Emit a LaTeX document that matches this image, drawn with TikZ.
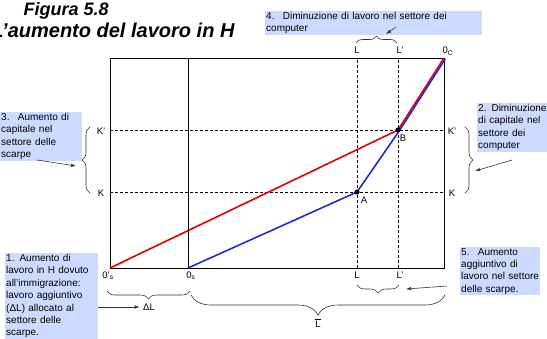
\documentclass[tikz,border=0pt]{standalone}
\usepackage{fontspec}
\setmainfont{Liberation Sans}
\usetikzlibrary{arrows.meta,decorations.pathreplacing}
\definecolor{noteblue}{RGB}{204,218,255}
\definecolor{linered}{RGB}{225,0,0}
\definecolor{lineblue}{RGB}{35,40,220}

\begin{document}
\begin{tikzpicture}[x=1pt, y=-1pt,
    every node/.style={font=\fontsize{9.5}{11}\selectfont},
    note/.style={fill=noteblue, inner sep=1pt, align=left, anchor=north west, font=\fontsize{10}{12.4}\selectfont},
    grid/.style={dash pattern=on 3pt off 2pt, line width=0.8pt},
    brc/.style={decorate, decoration={brace, amplitude=#1}, line width=0.6pt, black!80},
    brc/.default=7pt,
    arr/.style={-{Latex[length=5pt,width=3.5pt]}, line width=0.6pt, black!80},
    curve/.style={line width=1.6pt, line join=round}
  ]
    \useasboundingbox (0,0) rectangle (547,338);

    % title
    \node[anchor=base west, font=\fontsize{18}{20}\selectfont\bfseries\itshape] (fig) at (20,15) {Figura 5.8};
    \node[anchor=base east, font=\fontsize{20}{22}\selectfont\bfseries\itshape] (title) at (238,37) {L'aumento del lavoro in H};

    % box
    \coordinate (Osp) at (110,268);
    \coordinate (Os) at (188,268);
    \coordinate (Oc) at (444,58);
    \coordinate (L) at (357,268);
    \coordinate (Lp) at (398,268);
    \coordinate (K) at (110,192);
    \coordinate (Kp) at (110,130);
    \coordinate (A) at (L |- K);
    \coordinate (B) at (Lp |- Kp);

    \draw[grid] (L) -- (L |- Oc);
    \draw[grid] (Lp) -- (Lp |- Oc);
    \draw[grid] (K) -- (K -| Oc);
    \draw[grid] (Kp) -- (Kp -| Oc);
    \draw[line width=1pt] (Osp) rectangle (Oc);
    \draw[line width=1pt] (Os) -- (Os |- Oc);

    \draw[curve, linered] (Osp) -- (B) -- (Oc);
    \draw[curve, lineblue] (Os) -- (A) -- ([xshift=1.3pt, yshift=-0.8pt]B) -- ([xshift=1.3pt, yshift=-0.8pt]Oc);
    \fill (A) circle (2.6);
    \fill (B) circle (2.6);

    % labels
    \node (labA) at (364,200) {A};
    \node (labB) at (403,138) {B};
    \node (kpl) at (101,131) {K'};
    \node (kl) at (101,193) {K};
    \node (kpr) at (452,131) {K'};
    \node (kr) at (452,193) {K};
    \node (ltop) at (357,50) {L};
    \node (lptop) at (400,50) {L'};
    \node (lbot) at (357,275) {L};
    \node (lpbot) at (400,275) {L'};
    \node (oc) at (448,51) {0\textsubscript{C}};
    \node (osp) at (108,276) {0'\textsubscript{s}};
    \node (os) at (191,276) {0\textsubscript{s}};
    \node (dL) at (149,307) {ΔL};
    \node (Lbar) at (318,323) {$\overline{\mbox{L}}$};

    % braces
    \draw[brc] (356,43) -- (397,43);
    \draw[brc=8pt] (90,193) -- (90,127);
    \draw[brc=8pt] (465,127) -- (465,193);
    \draw[brc=8pt] (190,291) -- (107,291);
    \draw[brc=8pt] (399,285) -- (357,285);
    \draw[brc=20pt] (445,295) -- (191,295);

    % notes
    \node[note, text width=91pt] (n1) at (5,253) {1. Aumento di\\lavoro in H dovuto\\all'immigrazione:\\lavoro aggiuntivo\\(ΔL) allocato al\\settore delle\\scarpe.};
    \node[note, text width=68pt] (n2) at (477,103) {\mbox{2. Diminuzione}\\di capitale nel\\settore dei\\computer};
    \node[note, text width=80pt] (n3) at (0,112) {3.~ Aumento di\\capitale nel\\settore delle\\scarpe};
    \node[note, text width=215pt] (n4) at (265,11) {4.~ Diminuzione di lavoro nel settore dei\\computer};
    \node[note, text width=78pt] (n5) at (460,247) {5.~ Aumento\\aggiuntivo di\\lavoro nel settore\\delle scarpe.};

    % arrows
    \coordinate (t2) at (512,160);
    \coordinate (h2) at (475,171);
    \coordinate (t3) at (37,160);
    \coordinate (h3) at (76,166);
    \coordinate (t4) at (396,27);
    \coordinate (h4) at (386,34);
    \coordinate (t5) at (447,286);
    \coordinate (h5) at (406,289);
    \draw[arr] (n1.east |- dL) -- (dL.west);
    \draw[arr] (t2) -- (h2);
    \draw[arr] (t3) -- (h3);
    \draw[arr] (t4) -- (h4);
    \draw[arr] (t5) -- (h5);
\end{tikzpicture}
\end{document}
